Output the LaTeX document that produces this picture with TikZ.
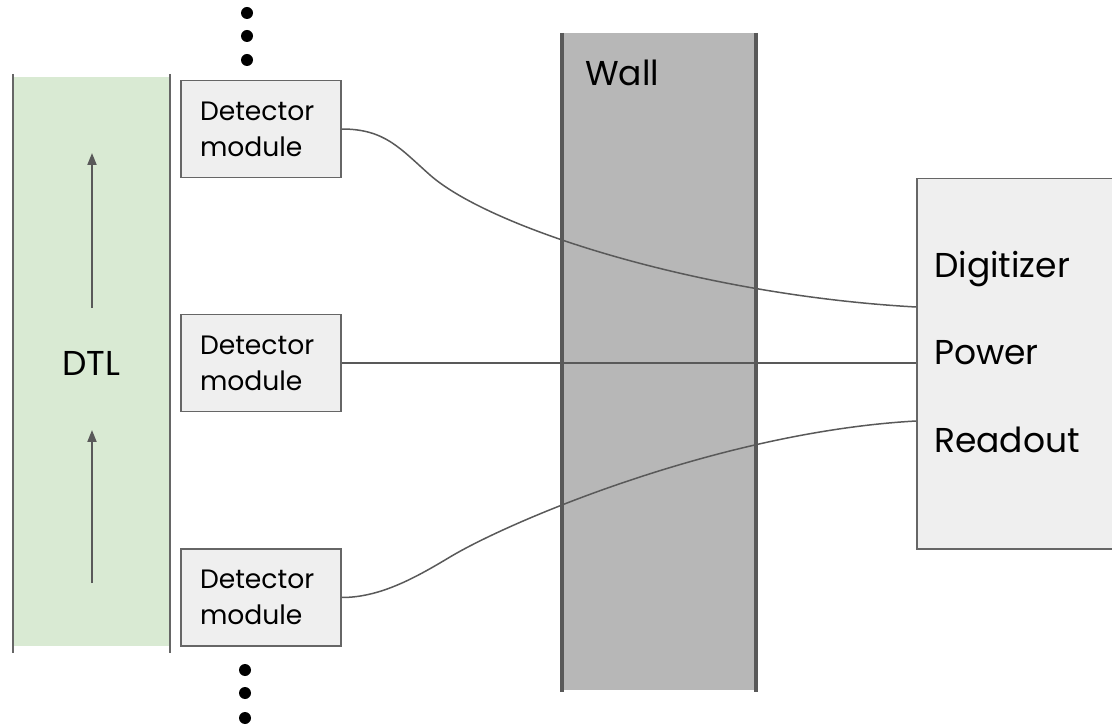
\documentclass[tikz,border=0pt]{standalone}
\usepackage{fontspec}
\setmainfont{Poppins}
\usetikzlibrary{arrows.meta}

\definecolor{dtlgreen}{HTML}{D9EAD3}
\definecolor{panel}{HTML}{EFEFEF}
\definecolor{wallgray}{HTML}{B7B7B7}
\definecolor{ink}{HTML}{595959}
\definecolor{boxline}{HTML}{666666}

\tikzset{
  module/.style={rectangle, draw=boxline, fill=panel, line width=1.5pt,
    minimum width=160pt, minimum height=97pt, text width=122pt,
    inner xsep=19pt, inner ysep=0pt, align=left,
    font=\fontsize{26.6}{36}\selectfont},
  bigtext/.style={inner sep=0pt, font=\fontsize{34.5}{40}\selectfont},
  wire/.style={draw=ink, line width=1.5pt},
  flow/.style={draw=ink, line width=2pt, -{Triangle[width=9pt,length=12pt]}},
  rail/.style={draw=boxline, line width=2pt},
  wallside/.style={draw=ink, line width=4pt},
  dot/.style={circle, fill=black, inner sep=0pt, minimum size=12pt},
}

\begin{document}
\begin{tikzpicture}[x=1pt, y=-1pt]
  \useasboundingbox (0,0) rectangle (1112,727);

  % DTL band with its two rails
  \node[fill=dtlgreen, minimum width=157pt, minimum height=569pt, inner sep=0pt,
        anchor=north west] (dtl) at (13,77) {};
  \node[bigtext] (dtllabel) at (91,363) {DTL};
  \draw[rail] ([yshift=3pt]dtl.north west) -- ([yshift=-7pt]dtl.south west);
  \draw[rail] ([yshift=3pt]dtl.north east) -- ([yshift=-7pt]dtl.south east);

  % beam direction arrows
  \coordinate (a1s) at (92,308);
  \coordinate (a1e) at (92,153);
  \coordinate (a2s) at (92,583);
  \coordinate (a2e) at (92,430);
  \draw[flow] (a1s) -- (a1e);
  \draw[flow] (a2s) -- (a2e);

  % wall
  \node[fill=wallgray, minimum width=194pt, minimum height=657pt, inner sep=0pt,
        anchor=north west] (wall) at (562,33) {};
  \draw[wallside] (wall.north west) -- ([yshift=-2pt]wall.south west);
  \draw[wallside] (wall.north east) -- ([yshift=-2pt]wall.south east);
  \node[bigtext, anchor=base west] (walllabel) at (585,86) {Wall};

  % detector modules
  \node[module] (m1) at (261,129) {Detector\\module};
  \node[module] (m2) at (261,363) {Detector\\module};
  \node[module] (m3) at (261,597.5) {Detector\\module};

  % continuation dots
  \node[dot] (u1) at (247,13) {};
  \node[dot] (u2) at (247,36) {};
  \node[dot] (u3) at (247,60) {};
  \node[dot] (b1) at (245,670) {};
  \node[dot] (b2) at (245,693) {};
  \node[dot] (b3) at (245,718) {};

  % back-end rack
  \node[rectangle, draw=boxline, fill=panel, line width=1.5pt,
        minimum width=230pt, minimum height=370pt, inner sep=0pt,
        anchor=north west] (dig) at (916,178) {};
  \node[bigtext, anchor=base west] (digl) at (934,278) {Digitizer};
  \node[bigtext, anchor=base west] (powl) at (934,365) {Power};
  \node[bigtext, anchor=base west] (readl) at (934,453) {Readout};

  % cable entry points on the rack
  \coordinate (p1) at (dig.west |- 0,307);
  \coordinate (p2) at (dig.west |- m2.east);
  \coordinate (p3) at (dig.west |- 0,421);

  % cables
  \draw[wire] (m1.east) .. controls (385,129) and (400,148.5) .. (430,175)
              .. controls (490,228) and (700,295) .. (p1);
  \draw[wire] (m2.east) -- (p2);
  \draw[wire] (m3.east) .. controls (380,597.5) and (415,578) .. (450,557)
              .. controls (510,521) and (720,432) .. (p3);
\end{tikzpicture}
\end{document}
